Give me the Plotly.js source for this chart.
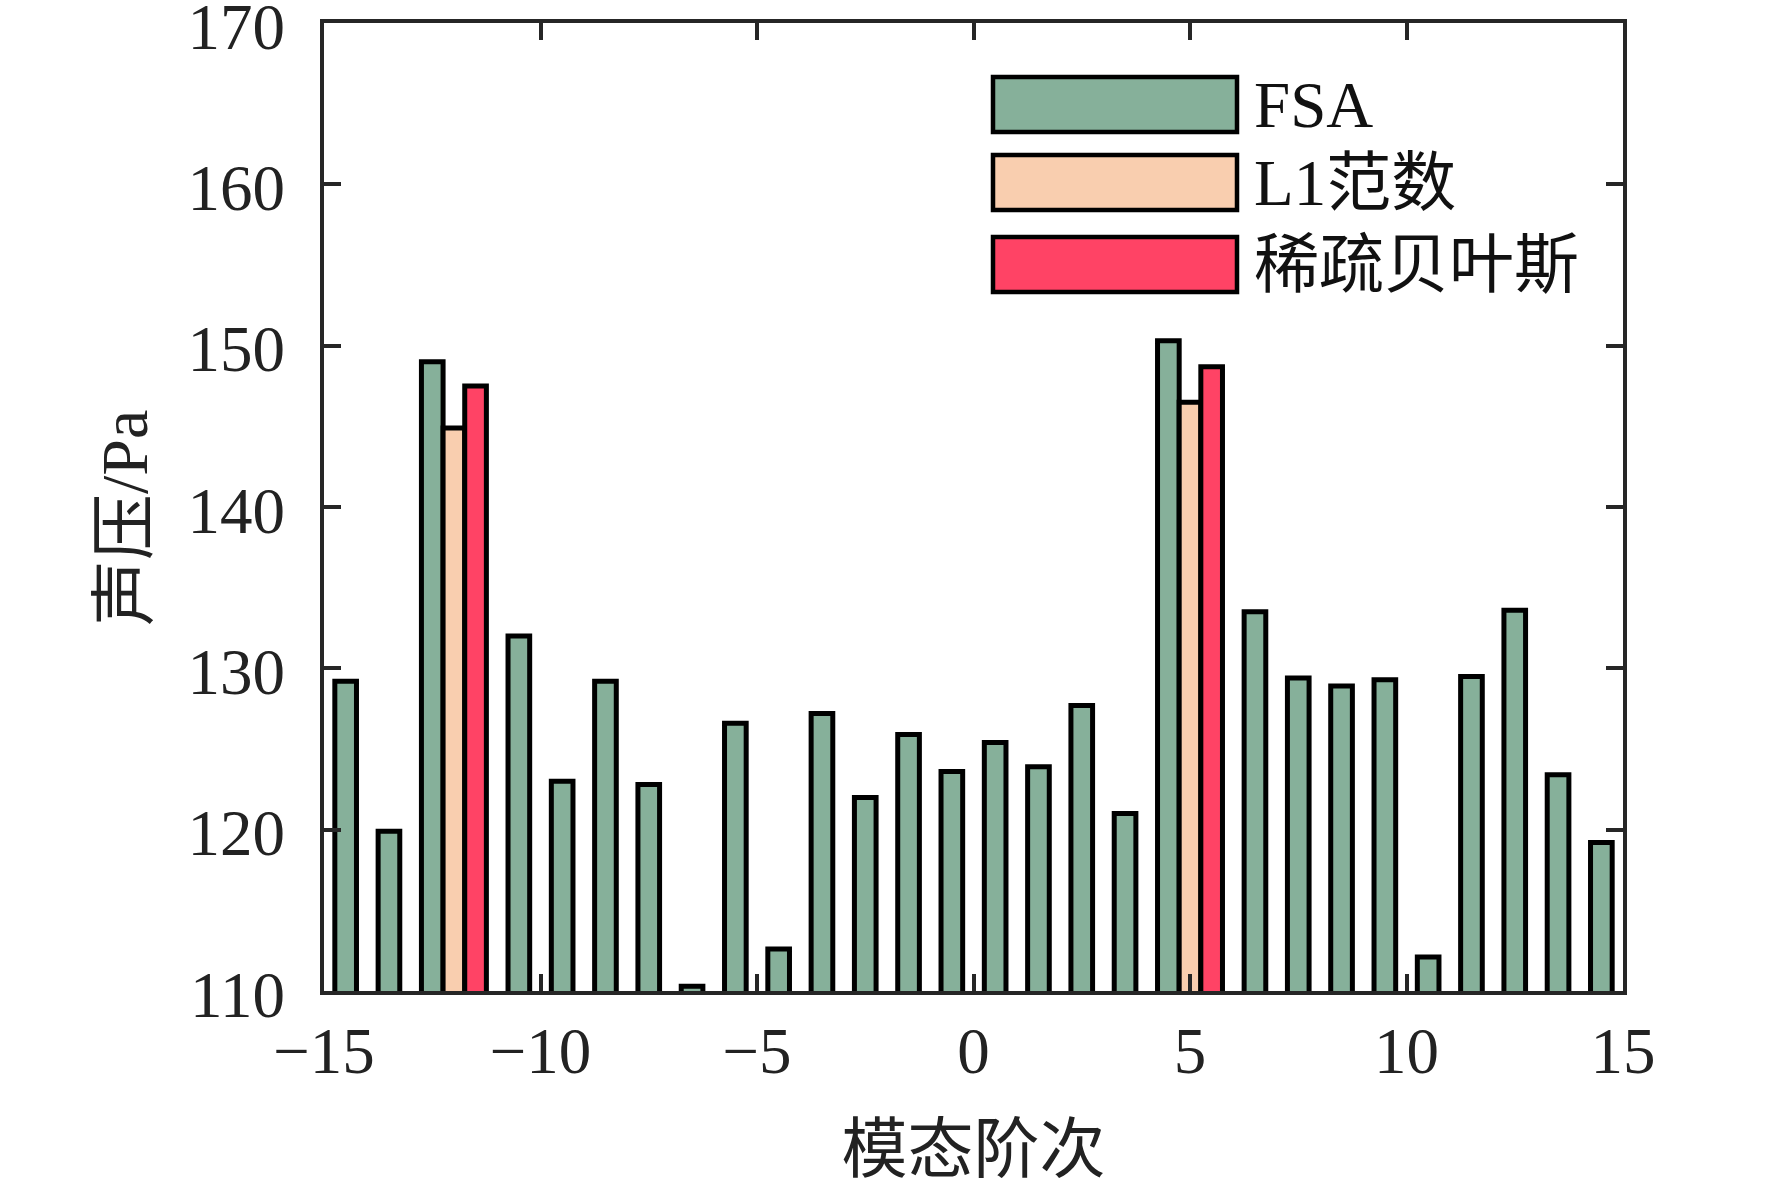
<!DOCTYPE html>
<html>
<head>
<meta charset="utf-8">
<script src="https://cdn.plot.ly/plotly-3.0.1.min.js"></script>
<style>
  html, body { margin: 0; padding: 0; background: #fff; }
  #chart { width: 1772px; height: 1186px; }
</style>
</head>
<body>
<div id="chart"></div>
<script>
// bar positions (mode order) and sound pressure values
const fsaX = [-14.5, -13.5, -12.5, -10.5, -9.5, -8.5, -7.5, -6.5, -5.5, -4.5, -3.5, -2.5, -1.5, -0.5,
  0.5, 1.5, 2.5, 3.5, 4.5, 6.5, 7.5, 8.5, 9.5, 10.5, 11.5, 12.5, 13.5, 14.5];
const fsaY = [129.2, 119.9, 149.0, 132.0, 123.0, 129.2, 122.8, 110.3, 126.6, 112.6, 127.2, 122.0, 125.9, 123.6,
  125.4, 123.9, 127.7, 121.0, 150.3, 133.5, 129.4, 128.9, 129.3, 112.1, 129.5, 133.6, 123.4, 119.2];
const l1X = [-12, 5];
const l1Y = [144.9, 146.5];
const sbX = [-11.5, 5.5];
const sbY = [147.5, 148.7];

const seriesNames = ['FSA', 'L1范数', '稀疏贝叶斯'];
const seriesColors = ['#86B09A', '#F9CEAF', '#FF4365'];

const xTickVals = [-15, -10, -5, 0, 5, 10, 15];
const xTickText = ['\u221215', '\u221210', '\u22125', '0', '5', '10', '15'];
const yTickVals = [110, 120, 130, 140, 150, 160, 170];

const W = 1772, H = 1186;
const M = { l: 324, r: 149, t: 23, b: 195 };
const serif = 'Liberation Serif, Times New Roman, Noto Sans CJK SC, serif';
const axisColor = '#262626';

// pixel -> paper helpers for the hand-made legend and y title
const px = x => (x - M.l) / (W - M.l - M.r);
const py = y => (H - M.b - y) / (H - M.t - M.b);

function barTrace(x, y, name, color) {
  return {
    type: 'bar',
    x: x,
    y: y,
    name: name,
    width: 0.5,
    marker: { color: color, line: { color: '#000', width: 5 } },
    showlegend: false,
    hoverinfo: 'x+y+name'
  };
}

const data = [
  barTrace(fsaX, fsaY, seriesNames[0], seriesColors[0]),
  barTrace(l1X, l1Y, seriesNames[1], seriesColors[1]),
  barTrace(sbX, sbY, seriesNames[2], seriesColors[2])
];

// legend: big swatches like the original
const rows = [[77, 132], [155, 210], [237, 292]];
const shapes = [];
const annotations = [];
rows.forEach((r, i) => {
  shapes.push({
    type: 'rect', xref: 'paper', yref: 'paper',
    x0: px(993), x1: px(1237), y0: py(r[1]), y1: py(r[0]),
    fillcolor: seriesColors[i], line: { color: '#000', width: 4.5 }
  });
  annotations.push({
    xref: 'paper', yref: 'paper',
    x: px(1252), y: py((r[0] + r[1]) / 2),
    xanchor: 'left', yanchor: 'middle',
    text: seriesNames[i], showarrow: false,
    font: { family: serif, size: 65, color: '#111' }
  });
});

// y axis title, placed a little below the axis middle as in the original
annotations.push({
  xref: 'paper', yref: 'paper',
  x: px(124), y: py(518),
  xanchor: 'center', yanchor: 'middle',
  textangle: -90,
  text: '声压/Pa', showarrow: false,
  font: { family: serif, size: 66, color: '#222' }
});

const axisBase = {
  showline: true,
  linecolor: axisColor,
  linewidth: 4,
  mirror: 'allticks',
  ticks: 'inside',
  ticklen: 17,
  tickwidth: 3.5,
  tickcolor: axisColor,
  showgrid: false,
  zeroline: false,
  ticklabeloverflow: 'allow',
  tickfont: { family: serif, size: 65, color: '#222' },
  automargin: false
};

const layout = {
  width: W,
  height: H,
  margin: M,
  paper_bgcolor: '#fff',
  plot_bgcolor: '#fff',
  barmode: 'overlay',
  xaxis: Object.assign({}, axisBase, {
    range: [-15, 15],
    tickvals: xTickVals,
    ticktext: xTickText,
    ticklabelstandoff: 0,
    title: { text: '模态阶次', standoff: 42, font: { family: serif, size: 66, color: '#222' } }
  }),
  yaxis: Object.assign({}, axisBase, {
    range: [110, 170],
    tickvals: yTickVals,
    ticklabelstandoff: 22,
    ticklabelshift: 3
  }),
  shapes: shapes,
  annotations: annotations
};

Plotly.newPlot('chart', data, layout, { displayModeBar: false, responsive: false });
</script>
</body>
</html>
